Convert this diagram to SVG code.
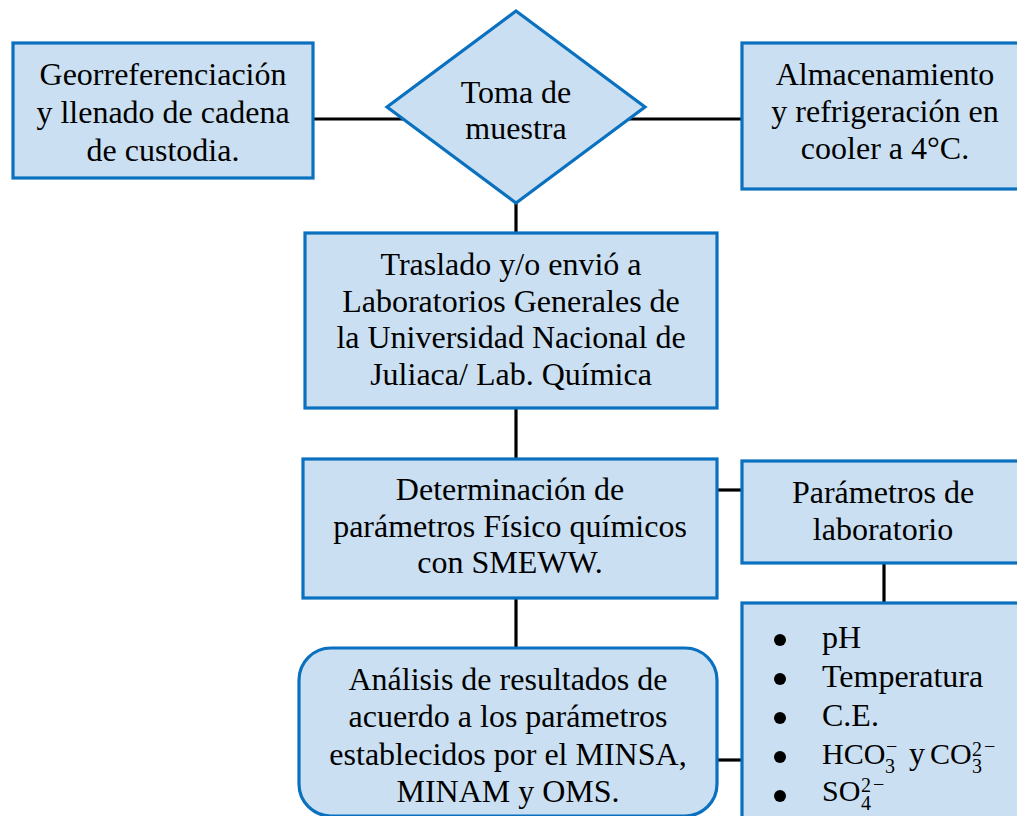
<svg xmlns="http://www.w3.org/2000/svg" width="1017" height="816" viewBox="0 0 1017 816">
<style>
.box{fill:#CADFF1;stroke:#0A70C0;stroke-width:3.2}
.t{font-family:"Liberation Serif","Times New Roman",serif;font-size:32px;fill:#000;text-anchor:middle}
.l{font-family:"Liberation Serif","Times New Roman",serif;font-size:32px;fill:#000}
.m{font-size:30px}
.s{font-size:20px}
.c{stroke:#000;stroke-width:3.2;fill:none}
</style>
<rect width="1017" height="816" fill="#fff"/>
<g id="connectors">
<line class="c" x1="313" y1="119" x2="405" y2="119"/>
<line class="c" x1="628" y1="119" x2="742" y2="119"/>
<line class="c" x1="516" y1="203" x2="516" y2="233"/>
<line class="c" x1="516" y1="408" x2="516" y2="459"/>
<line class="c" x1="516" y1="598" x2="516" y2="648"/>
<line class="c" x1="717" y1="490" x2="742" y2="490"/>
<line class="c" x1="884" y1="563" x2="884" y2="603"/>
<line class="c" x1="717" y1="760" x2="742" y2="760"/>
</g>
<g id="georreferenciacion">
<rect class="box" x="13" y="43" width="300" height="135"/>
<text class="t" x="163" y="85">Georreferenciación</text>
<text class="t" x="163" y="123">y llenado de cadena</text>
<text class="t" x="163" y="161">de custodia.</text>
</g>
<g id="toma">
<polygon class="box" points="516,11 645,107 516,203 387,107"/>
<text class="t" x="516" y="103">Toma de</text>
<text class="t" x="516" y="139">muestra</text>
</g>
<g id="almacenamiento">
<rect class="box" x="742" y="43" width="290" height="146"/>
<text class="t" x="885" y="85">Almacenamiento</text>
<text class="t" x="885" y="122">y refrigeración en</text>
<text class="t" x="885" y="159">cooler a 4°C.</text>
</g>
<g id="traslado">
<rect class="box" x="305" y="233" width="412" height="175"/>
<text class="t" x="511" y="275">Traslado y/o envió a</text>
<text class="t" x="511" y="312">Laboratorios Generales de</text>
<text class="t" x="511" y="348">la Universidad Nacional de</text>
<text class="t" x="511" y="385">Juliaca/ Lab. Química</text>
</g>
<g id="determinacion">
<rect class="box" x="303" y="459" width="414" height="139"/>
<text class="t" x="510" y="500">Determinación de</text>
<text class="t" x="510" y="537">parámetros Físico químicos</text>
<text class="t" x="510" y="573">con SMEWW.</text>
</g>
<g id="parametros">
<rect class="box" x="742" y="461" width="290" height="102"/>
<text class="t" x="883" y="503">Parámetros de</text>
<text class="t" x="883" y="540">laboratorio</text>
</g>
<g id="lista">
<rect class="box" x="742" y="603" width="290" height="230"/>
<circle cx="780" cy="640" r="6"/>
<circle cx="780" cy="679" r="6"/>
<circle cx="780" cy="718" r="6"/>
<circle cx="780" cy="757" r="6"/>
<circle cx="780" cy="796" r="6"/>
<text class="l" x="822" y="648">pH</text>
<text class="l" x="822" y="687">Temperatura</text>
<text class="l" x="822" y="726">C.E.</text>
<text class="l"><tspan class="m" x="822" y="764">HCO</tspan><tspan class="s" x="885" y="773">3</tspan><tspan class="s" x="886" y="753">−</tspan><tspan x="909" y="764">y</tspan><tspan class="m" x="930" y="764">CO</tspan><tspan class="s" x="972" y="756">2</tspan><tspan class="s" x="972" y="773">3</tspan><tspan class="s" x="984" y="753">−</tspan></text>
<text class="l"><tspan class="m" x="822" y="801">SO</tspan><tspan class="s" x="861" y="792">2</tspan><tspan class="s" x="873" y="791">−</tspan><tspan class="s" x="861" y="810">4</tspan></text>
</g>
<g id="analisis">
<rect class="box" x="299" y="648" width="418" height="168" rx="32" ry="32"/>
<text class="t" x="508" y="690">Análisis de resultados de</text>
<text class="t" x="508" y="727">acuerdo a los parámetros</text>
<text class="t" x="508" y="765">establecidos por el MINSA,</text>
<text class="t" x="508" y="802">MINAM y OMS.</text>
</g>
</svg>
